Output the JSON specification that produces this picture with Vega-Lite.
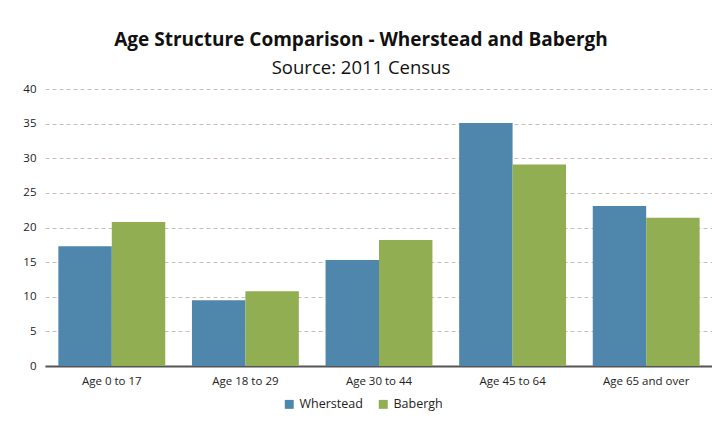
{
  "$schema": "https://vega.github.io/schema/vega-lite/v6.json",
  "width": 668,
  "height": 277,
  "autosize": {"type": "none"},
  "padding": {"left": 45, "top": 89, "right": 0, "bottom": 55},
  "background": "white",
  "title": {
    "text": "Age Structure Comparison - Wherstead and Babergh",
    "subtitle": "Source: 2011 Census",
    "anchor": "middle",
    "frame": "group",
    "dx": -18,
    "offset": 6,
    "font": "Open Sans",
    "fontSize": 19,
    "fontWeight": "bold",
    "color": "#111111",
    "subtitleFont": "Open Sans",
    "subtitleFontSize": 18.5,
    "subtitleColor": "#111111",
    "subtitlePadding": 9
  },
  "data": {
    "values": [
      {"age": "Age 0 to 17", "area": "Wherstead", "value": 17.3},
      {"age": "Age 0 to 17", "area": "Babergh", "value": 20.8},
      {"age": "Age 18 to 29", "area": "Wherstead", "value": 9.5},
      {"age": "Age 18 to 29", "area": "Babergh", "value": 10.8},
      {"age": "Age 30 to 44", "area": "Wherstead", "value": 15.3},
      {"age": "Age 30 to 44", "area": "Babergh", "value": 18.2},
      {"age": "Age 45 to 64", "area": "Wherstead", "value": 35.1},
      {"age": "Age 45 to 64", "area": "Babergh", "value": 29.1},
      {"age": "Age 65 and over", "area": "Wherstead", "value": 23.1},
      {"age": "Age 65 and over", "area": "Babergh", "value": 21.4}
    ]
  },
  "mark": {"type": "bar"},
  "encoding": {
    "x": {
      "field": "age",
      "type": "nominal",
      "sort": null,
      "scale": {"paddingInner": 0.2, "paddingOuter": 0.1},
      "axis": {
        "title": null,
        "labelAngle": 0,
        "labelFont": "Open Sans",
        "labelFontSize": 11.5,
        "labelColor": "#222222",
        "labelPadding": 9,
        "ticks": false,
        "domainColor": "#555555",
        "domainWidth": 2,
        "grid": false
      }
    },
    "xOffset": {"field": "area", "type": "nominal", "sort": ["Wherstead", "Babergh"]},
    "y": {
      "field": "value",
      "type": "quantitative",
      "scale": {"domain": [0, 40]},
      "axis": {
        "title": null,
        "values": [0, 5, 10, 15, 20, 25, 30, 35, 40],
        "labelFont": "Open Sans",
        "labelFontSize": 11.5,
        "labelColor": "#222222",
        "labelPadding": 9,
        "ticks": false,
        "domain": false,
        "gridColor": "#cbbcb5",
        "gridDash": [4, 3],
        "gridWidth": 1
      }
    },
    "color": {
      "field": "area",
      "type": "nominal",
      "sort": ["Wherstead", "Babergh"],
      "scale": {"domain": ["Wherstead", "Babergh"], "range": ["#4f86ac", "#92ae52"]},
      "legend": {
        "title": null,
        "orient": "none",
        "legendX": 238,
        "legendY": 309,
        "direction": "horizontal",
        "symbolType": "square",
        "symbolSize": 80,
        "labelFont": "Open Sans",
        "labelFontSize": 12.5,
        "labelColor": "#222222",
        "columnPadding": 14
      }
    }
  },
  "config": {"view": {"stroke": null}}
}
